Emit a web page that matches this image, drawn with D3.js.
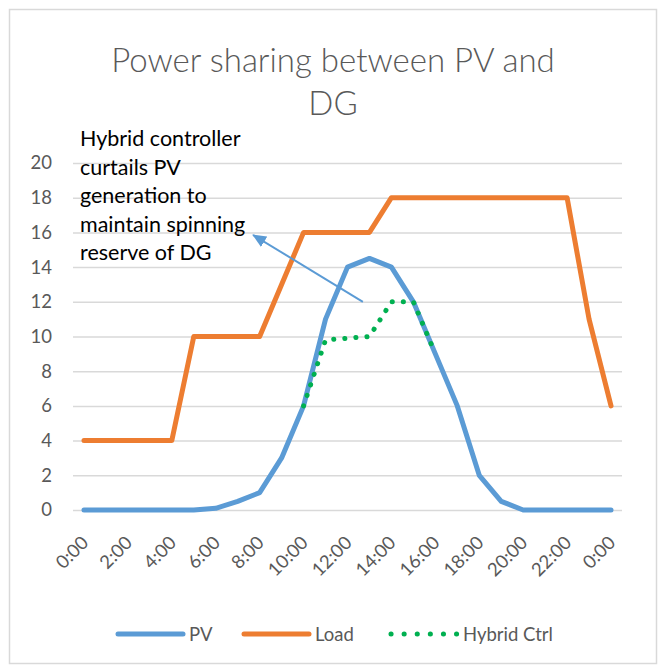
<!DOCTYPE html>
<html>

<head>
    <script src="https://cdnjs.cloudflare.com/ajax/libs/d3/7.8.5/d3.min.js"></script>
    <style>
        body {
            margin: 0;
            background-color: #ffffff;
            font-family: 'Lato', sans-serif;
        }
    </style>
    <title>Power sharing between PV and DG</title>
</head>

<body>
    <svg id="chart" width="661" height="670"></svg>

    <script>
        // hourly categories, 0:00 .. 0:00
        var hours = ["0:00", "1:00", "2:00", "3:00", "4:00", "5:00", "6:00", "7:00", "8:00", "9:00", "10:00", "11:00",
            "12:00", "13:00", "14:00", "15:00", "16:00", "17:00", "18:00", "19:00", "20:00", "21:00", "22:00", "23:00", "0:00"];
        var pv = [0, 0, 0, 0, 0, 0, 0.1, 0.5, 1, 3, 6, 11, 14, 14.5, 14, 12, 9, 6, 2, 0.5, 0, 0, 0, 0, 0];
        var load = [4, 4, 4, 4, 4, 10, 10, 10, 10, 13, 16, 16, 16, 16, 18, 18, 18, 18, 18, 18, 18, 18, 18, 11, 6];
        var hybrid = [null, null, null, null, null, null, null, null, null, null, 6, 9.8, 9.9, 10, 12, 12, 9,
            null, null, null, null, null, null, null, null];
        var yTicks = [0, 2, 4, 6, 8, 10, 12, 14, 16, 18, 20];
        var titleLines = ["Power sharing between PV and", "DG"];
        var noteLines = ["Hybrid controller", "curtails PV", "generation to", "maintain spinning", "reserve of DG"];
        // arrow from / to, in (hour index, value)
        var arrowFrom = [12.7, 12];
        var arrowTo = [7.7, 15.85];

        var canvas = d3.select("#chart");
        var plotLeft = 73, plotRight = 622, plotTop = 163, plotBottom = 510;

        var xScale = d3.scalePoint()
            .domain(d3.range(hours.length))
            .range([plotLeft, plotRight])
            .padding(0.5);
        var step = xScale.step();
        var xPos = function (i) {
            return xScale(0) + i * step;
        };
        var yScale = d3.scaleLinear()
            .domain([0, 20])
            .range([plotBottom, plotTop]);

        // outer chart border
        canvas.append("rect")
            .attr("x", 9.5)
            .attr("y", 9.5)
            .attr("width", 647)
            .attr("height", 654)
            .attr("fill", "#ffffff")
            .attr("stroke", "#d9d9d9")
            .attr("stroke-width", 1.5);

        // title
        canvas.append("g")
            .selectAll("text")
            .data(titleLines)
            .enter()
            .append("text")
            .attr("x", 333)
            .attr("y", function (d, i) { return 72 + i * 43; })
            .attr("text-anchor", "middle")
            .style("font-family", "Lato")
            .style("font-weight", 300)
            .style("font-size", "33px")
            .style("fill", "#595959")
            .text(function (d) { return d; });

        // gridlines + y labels
        var yAxis = d3.axisLeft(yScale)
            .tickValues(yTicks)
            .tickSize(-(plotRight - plotLeft))
            .tickPadding(21);
        var gy = canvas.append("g")
            .attr("transform", "translate(" + plotLeft + ",0)")
            .call(yAxis);
        gy.select(".domain").remove();
        gy.selectAll("line")
            .style("stroke", "#d9d9d9")
            .style("stroke-width", "1.5px");
        gy.selectAll("text")
            .style("font-family", "Lato")
            .style("font-size", "18.5px")
            .style("fill", "#595959");

        // x labels, every 2 hours, rotated
        var xAxis = d3.axisBottom(xScale)
            .tickValues(d3.range(0, hours.length, 2))
            .tickSize(0)
            .tickFormat(function (i) { return hours[i]; });
        var gx = canvas.append("g")
            .attr("transform", "translate(0," + plotBottom + ")")
            .call(xAxis);
        gx.select(".domain").remove();
        gx.selectAll("text")
            .attr("dy", null)
            .attr("y", 0)
            .attr("text-anchor", "end")
            .attr("transform", "translate(5,34) rotate(-45)")
            .style("font-family", "Lato")
            .style("font-size", "18.5px")
            .style("fill", "#595959");

        var line = d3.line()
            .defined(function (d) { return d != null; })
            .x(function (d, i) { return xScale(i); })
            .y(function (d) { return yScale(d); });

        canvas.append("path")
            .datum(pv)
            .attr("fill", "none")
            .attr("stroke", "#5b9bd5")
            .attr("stroke-width", 5)
            .attr("stroke-linejoin", "round")
            .attr("stroke-linecap", "round")
            .attr("d", line);

        canvas.append("path")
            .datum(load)
            .attr("fill", "none")
            .attr("stroke", "#ed7d31")
            .attr("stroke-width", 5)
            .attr("stroke-linejoin", "round")
            .attr("stroke-linecap", "round")
            .attr("d", line);

        canvas.append("path")
            .datum(hybrid)
            .attr("fill", "none")
            .attr("stroke", "#00b050")
            .attr("stroke-width", 5)
            .attr("stroke-linecap", "round")
            .attr("stroke-dasharray", "0.1 11")
            .attr("d", line);

        // annotation arrow
        canvas.append("defs")
            .append("marker")
            .attr("id", "head")
            .attr("markerUnits", "userSpaceOnUse")
            .attr("markerWidth", 14)
            .attr("markerHeight", 12)
            .attr("refX", 13)
            .attr("refY", 6)
            .attr("orient", "auto")
            .append("path")
            .attr("d", "M0,0 L14,6 L0,12 Z")
            .attr("fill", "#5b9bd5");

        canvas.append("line")
            .attr("x1", xPos(arrowFrom[0]))
            .attr("y1", yScale(arrowFrom[1]))
            .attr("x2", xPos(arrowTo[0]))
            .attr("y2", yScale(arrowTo[1]))
            .attr("stroke", "#5b9bd5")
            .attr("stroke-width", 2)
            .attr("marker-end", "url(#head)");

        // annotation text box
        canvas.append("g")
            .selectAll("text")
            .data(noteLines)
            .enter()
            .append("text")
            .attr("x", 80)
            .attr("y", function (d, i) { return 146 + i * 28.5; })
            .style("font-family", "Lato")
            .style("font-size", "21.5px")
            .style("fill", "#000000")
            .text(function (d) { return d; });

        // legend
        var legend = [
            { name: "PV", color: "#5b9bd5", dash: null, x: 116 },
            { name: "Load", color: "#ed7d31", dash: null, x: 242 },
            { name: "Hybrid Ctrl", color: "#00b050", dash: "0.1 13", x: 389 }
        ];
        var lg = canvas.append("g")
            .selectAll("g")
            .data(legend)
            .enter()
            .append("g")
            .attr("transform", function (d) { return "translate(" + d.x + ",634)"; });
        lg.append("line")
            .attr("x1", 2)
            .attr("x2", function (d) { return d.dash ? 68 : 67; })
            .attr("stroke", function (d) { return d.color; })
            .attr("stroke-width", 5)
            .attr("stroke-linecap", "round")
            .attr("stroke-dasharray", function (d) { return d.dash; });
        lg.append("text")
            .attr("x", function (d) { return d.dash ? 74 : 73; })
            .attr("y", 6.5)
            .style("font-family", "Lato")
            .style("font-size", "18.5px")
            .style("fill", "#595959")
            .text(function (d) { return d.name; });
    </script>
</body>
</html>
